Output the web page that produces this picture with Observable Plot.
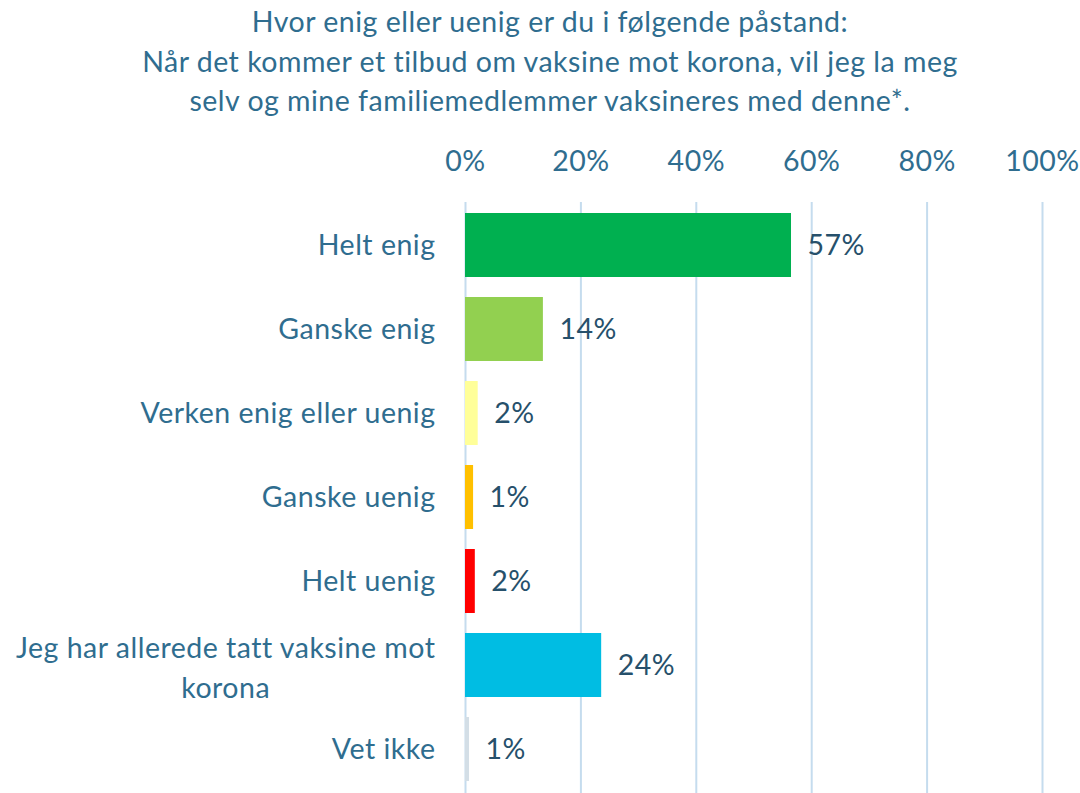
<!DOCTYPE html>
<html><head><meta charset="utf-8">
<script src="https://cdn.jsdelivr.net/npm/d3@7"></script>
<script src="https://cdn.jsdelivr.net/npm/@observablehq/plot@0.6"></script>
<style>
body{margin:0;background:#fff;font-family:Lato,sans-serif;}
#title{position:absolute;left:0;top:0;width:1100px;text-align:center;color:#2f6d8f;font-size:28.5px;letter-spacing:0.5px;line-height:39.5px;padding-top:2px}
#chart{position:absolute;left:0;top:130px}
#chart svg text{letter-spacing:0.5px}
</style></head><body>
<div id="title">Hvor enig eller uenig er du i følgende påstand:<br>Når det kommer et tilbud om vaksine mot korona, vil jeg la meg<br>selv og mine familiemedlemmer vaksineres med denne*.</div>
<div id="chart"></div>
<script>
const categories = ["Helt enig","Ganske enig","Verken enig eller uenig","Ganske uenig","Helt uenig","Jeg har allerede tatt vaksine mot korona","Vet ikke"];
const categoryLines = [["Helt enig"],["Ganske enig"],["Verken enig eller uenig"],["Ganske uenig"],["Helt uenig"],["Jeg har allerede tatt vaksine mot","korona"],["Vet ikke"]];
const values = [56.5, 13.5, 2.2, 1.4, 1.7, 23.6, 0.7];
const valueLabels = ["57%","14%","2%","1%","2%","24%","1%"];
const colors = ["#00b050","#92d050","#ffff99","#ffc000","#ff0000","#00bde3","#d3dee6"];
const xTicks = [0,20,40,60,80,100];

const FONT = "Lato, sans-serif";
const FS = 28.5;
const LS = 0.5;
const data = categories.map((c,i)=>({cat:c, value:values[i], label:valueLabels[i], color:colors[i], lines:categoryLines[i]}));
const single = data.filter(d=>d.lines.length===1);
const multi = data.filter(d=>d.lines.length>1);
const ctx = document.createElement("canvas").getContext("2d");
ctx.font = `${FS}px ${FONT}`;
const multiW = multi.length ? Math.max(...multi[0].lines.map(l=>ctx.measureText(l).width + l.length*LS)) : 0;

const chart = Plot.plot({
  width:1080, height:663, marginTop:72, marginBottom:0, marginLeft:465, marginRight:38,
  x:{domain:[0,100], axis:null},
  y:{domain:categories, axis:null, paddingInner:0.233, paddingOuter:0.115},
  style:{fontFamily:FONT, background:"#fff"},
  marks:[
    Plot.gridX(xTicks, {stroke:"#c5dcee", strokeOpacity:1, strokeWidth:2}),
    Plot.barX(data, {x:"value", y:"cat", fill:"color"}),
    Plot.text(data, {x:"value", y:"cat", text:"label", dx:16, textAnchor:"start", fill:"#26506b", fontSize:FS}),
    Plot.text(xTicks, {x:d=>d, text:d=>d+"%", frameAnchor:"top", dy:-52, fill:"#2f6d8f", fontSize:FS}),
    Plot.text(single, {x:()=>0, y:"cat", text:d=>d.lines[0], dx:-30, textAnchor:"end", fill:"#2f6d8f", fontSize:FS}),
    Plot.text(multi, {x:()=>0, y:"cat", text:d=>d.lines.join("\n"), dx:-30-multiW/2, textAnchor:"middle", lineHeight:1.37, fill:"#2f6d8f", fontSize:FS})
  ]
});
document.getElementById("chart").appendChild(chart);
</script>
</body></html>
